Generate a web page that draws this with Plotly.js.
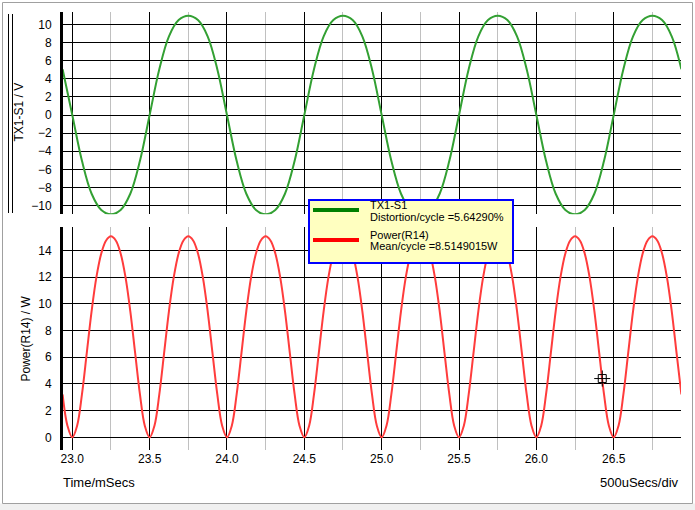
<!DOCTYPE html>
<html>
<head>
<meta charset="utf-8">
<script src="https://cdn.plot.ly/plotly-3.0.1.min.js"></script>
<style>
html,body{margin:0;padding:0;background:#fff;}
#chart{width:695px;height:510px;}
</style>
</head>
<body>
<div id="chart"></div>
<script>
// ---- data ----
const timeStart = 22.9375;      // ms, first sample
const greenStep = 0.0625;       // ms between TX1-S1 samples
const redStep = 0.03125;        // ms between Power(R14) samples

// TX1-S1 / V
const tx1s1 = [
  5.05, 0, -5.05, -8.68, -10.47, -10.95, -10.47, -8.68, -5.05, 0, 5.05, 8.68, 10.47, 10.95, 10.47, 8.68,
  5.05, 0, -5.05, -8.68, -10.47, -10.95, -10.47, -8.68, -5.05, 0, 5.05, 8.68, 10.47, 10.95, 10.47, 8.68,
  5.05, 0, -5.05, -8.68, -10.47, -10.95, -10.47, -8.68, -5.05, 0, 5.05, 8.68, 10.47, 10.95, 10.47, 8.68,
  5.05, 0, -5.05, -8.68, -10.47, -10.95, -10.47, -8.68, -5.05, 0, 5.05, 8.68, 10.47, 10.95, 10.47, 8.68,
  5.05
];

// Power(R14) / W
const powerR14 = [
  3.21, 0.87, 0, 0.87, 3.21, 6.32, 9.45, 12.01, 13.77, 14.74, 15.05, 14.74, 13.77, 12.01, 9.45, 6.32,
  3.21, 0.87, 0, 0.87, 3.21, 6.32, 9.45, 12.01, 13.77, 14.74, 15.05, 14.74, 13.77, 12.01, 9.45, 6.32,
  3.21, 0.87, 0, 0.87, 3.21, 6.32, 9.45, 12.01, 13.77, 14.74, 15.05, 14.74, 13.77, 12.01, 9.45, 6.32,
  3.21, 0.87, 0, 0.87, 3.21, 6.32, 9.45, 12.01, 13.77, 14.74, 15.05, 14.74, 13.77, 12.01, 9.45, 6.32,
  3.21, 0.87, 0, 0.87, 3.21, 6.32, 9.45, 12.01, 13.77, 14.74, 15.05, 14.74, 13.77, 12.01, 9.45, 6.32,
  3.21, 0.87, 0, 0.87, 3.21, 6.32, 9.45, 12.01, 13.77, 14.74, 15.05, 14.74, 13.77, 12.01, 9.45, 6.32,
  3.21, 0.87, 0, 0.87, 3.21, 6.32, 9.45, 12.01, 13.77, 14.74, 15.05, 14.74, 13.77, 12.01, 9.45, 6.32,
  3.21, 0.87, 0, 0.87, 3.21, 6.32, 9.45, 12.01, 13.77, 14.74, 15.05, 14.74, 13.77, 12.01, 9.45, 6.32,
  3.21
];

// cursor position (ms, W)
const cursorX = [26.426];
const cursorY = [4.4];

// texts
const topTitle = "TX1-S1 / V";
const bottomTitle = "Power(R14) / W";
const xTitle = "Time/mSecs";
const divText = "500uSecs/div";
const legendLines = ["TX1-S1", "Distortion/cycle =5.64290%", "Power(R14)", "Mean/cycle =8.5149015W"];

// ---- layout helpers (pixel -> paper) ----
const L = 63, T = 12, W = 618, H = 438;
const px = v => (v - L) / W;
const py = v => (T + H - v) / H;

const FONT = "Liberation Sans, Arial, sans-serif";

const traces = [
  {x0: timeStart, dx: greenStep, y: tx1s1, type: 'scatter', mode: 'lines',
   line: {color: '#33a033', width: 2, shape: 'spline'}, xaxis: 'x', yaxis: 'y2', hoverinfo: 'skip'},
  {x0: timeStart, dx: redStep, y: powerR14, type: 'scatter', mode: 'lines',
   line: {color: '#ff3c3c', width: 2, shape: 'spline'}, xaxis: 'x', yaxis: 'y', hoverinfo: 'skip'},
  {x: cursorX, y: cursorY, type: 'scatter', mode: 'markers', xaxis: 'x', yaxis: 'y',
   marker: {symbol: 'square-open', size: 8, color: '#000', line: {width: 1, color: '#000'}}},
  {x: cursorX, y: cursorY, type: 'scatter', mode: 'markers', xaxis: 'x', yaxis: 'y',
   marker: {symbol: 'cross-thin-open', size: 11.5, color: '#000', line: {width: 1, color: '#000'}}}
];

const yCommon = {
  showline: true, linewidth: 3, linecolor: '#000', mirror: false,
  showgrid: true, gridcolor: '#000', gridwidth: 1, zeroline: false,
  dtick: 2, tick0: 0, ticks: '', ticklabelstandoff: 6,
  tickfont: {family: FONT, size: 12, color: '#000'}, fixedrange: true
};

const layout = {
  width: 695, height: 510,
  margin: {l: L, r: 695 - L - W, t: T, b: 510 - T - H, pad: 0},
  paper_bgcolor: '#fff', plot_bgcolor: '#fff',
  showlegend: false,
  xaxis: {
    range: [22.94, 26.935], anchor: 'y', domain: [0, 1],
    showline: false, zeroline: false, ticks: '',
    dtick: 0.5, tick0: 0, tickformat: '.1f',
    showgrid: true, gridcolor: '#000', gridwidth: 1,
    minor: {dtick: 0.25, tick0: 0, showgrid: true, gridcolor: '#c0c0c0', gridwidth: 1},
    tickfont: {family: FONT, size: 12, color: '#000'}, ticklabelstandoff: 0
  },
  yaxis: Object.assign({}, yCommon, {domain: [0, 0.5098], range: [-0.95, 15.77], anchor: 'x'}),
  yaxis2: Object.assign({}, yCommon, {domain: [0.5381, 1], range: [-10.95, 11.36], anchor: 'x'}),
  shapes: [
    // bottom light band
    {type: 'rect', xref: 'paper', yref: 'paper', x0: px(-5), x1: px(700), y0: py(515), y1: py(503.5),
     fillcolor: '#f0f0f0', line: {width: 0}, layer: 'below'},
    // outer frame
    {type: 'rect', xref: 'paper', yref: 'paper', x0: px(2.5), x1: px(692.5), y0: py(503.5), y1: py(2.5),
     line: {color: '#a0a0a0', width: 1}, fillcolor: 'rgba(0,0,0,0)', layer: 'below'},
    // double lines beside top title
    {type: 'line', xref: 'paper', yref: 'paper', x0: px(8.5), x1: px(8.5), y0: py(14), y1: py(213),
     line: {color: '#000', width: 1}},
    {type: 'line', xref: 'paper', yref: 'paper', x0: px(12.5), x1: px(12.5), y0: py(14), y1: py(213),
     line: {color: '#000', width: 1}},
    // legend box
    {type: 'rect', xref: 'paper', yref: 'paper', x0: px(309), x1: px(513), y0: py(263), y1: py(200),
     fillcolor: '#ffffc0', line: {color: '#0000ff', width: 2}, layer: 'above'},
    {type: 'line', xref: 'paper', yref: 'paper', x0: px(313), x1: px(359), y0: py(210), y1: py(210),
     line: {color: '#008000', width: 4}, layer: 'above'},
    {type: 'line', xref: 'paper', yref: 'paper', x0: px(313), x1: px(359), y0: py(240), y1: py(240),
     line: {color: '#ff0000', width: 4}, layer: 'above'}
  ],
  annotations: [
    {text: topTitle, xref: 'paper', yref: 'paper', x: px(18.5), y: py(112), textangle: -90,
     showarrow: false, xanchor: 'center', yanchor: 'middle', font: {family: FONT, size: 12, color: '#000'}},
    {text: bottomTitle, xref: 'paper', yref: 'paper', x: px(25.5), y: py(339), textangle: -90,
     showarrow: false, xanchor: 'center', yanchor: 'middle', font: {family: FONT, size: 12, color: '#000'}},
    {text: xTitle, xref: 'paper', yref: 'paper', x: px(61), y: py(482),
     showarrow: false, xanchor: 'left', yanchor: 'middle', font: {family: FONT, size: 13, color: '#000'}},
    {text: divText, xref: 'paper', yref: 'paper', x: px(681), y: py(482),
     showarrow: false, xanchor: 'right', yanchor: 'middle', font: {family: FONT, size: 13, color: '#000'}},
    {text: legendLines[0], xref: 'paper', yref: 'paper', x: px(368), y: py(205),
     showarrow: false, xanchor: 'left', yanchor: 'middle', font: {family: FONT, size: 11, color: '#000'}},
    {text: legendLines[1], xref: 'paper', yref: 'paper', x: px(368), y: py(217),
     showarrow: false, xanchor: 'left', yanchor: 'middle', font: {family: FONT, size: 11, color: '#000'}},
    {text: legendLines[2], xref: 'paper', yref: 'paper', x: px(368), y: py(234.5),
     showarrow: false, xanchor: 'left', yanchor: 'middle', font: {family: FONT, size: 11, color: '#000'}},
    {text: legendLines[3], xref: 'paper', yref: 'paper', x: px(368), y: py(246.5),
     showarrow: false, xanchor: 'left', yanchor: 'middle', font: {family: FONT, size: 11, color: '#000'}}
  ]
};

Plotly.newPlot('chart', traces, layout, {staticPlot: true, displayModeBar: false});
</script>
</body>
</html>
